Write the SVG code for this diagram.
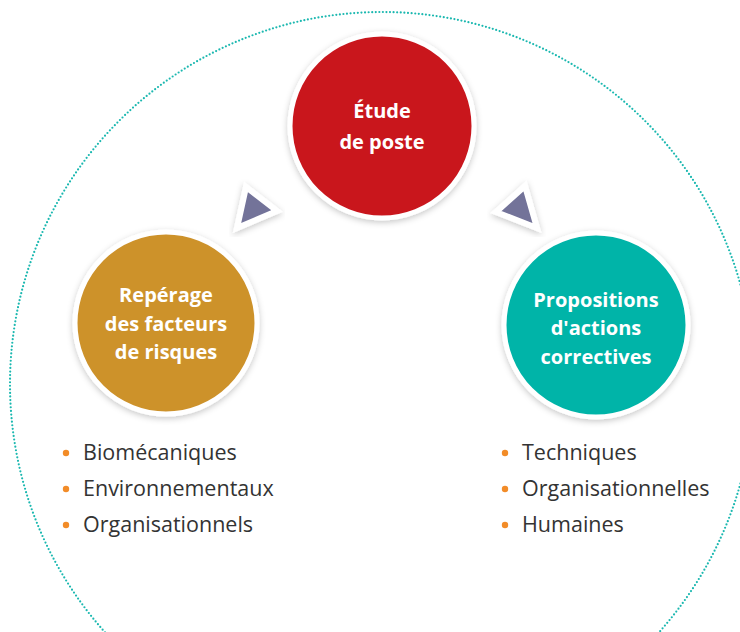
<svg xmlns="http://www.w3.org/2000/svg" width="740" height="632" viewBox="0 0 740 632">
<defs>
<filter id="sh" x="-20%" y="-20%" width="140%" height="140%">
<feDropShadow dx="0" dy="2" stdDeviation="3" flood-color="#000" flood-opacity="0.22"/>
</filter>
</defs>
<style>
.ring{fill:none;stroke:#1bb8b0;stroke-width:2.2;stroke-dasharray:0 3.6;stroke-linecap:round}
.disc{stroke:#fff;stroke-width:5;filter:url(#sh)}
.tri{fill:#737399;stroke:#fff;stroke-width:6;stroke-linejoin:miter;filter:url(#sh)}
.lbl{font-family:"Open Sans","Noto Sans",sans-serif;font-weight:bold;font-size:20px;fill:#fff;text-anchor:middle}
.item{font-family:"Open Sans","Noto Sans",sans-serif;font-size:21.5px;fill:#333}
.dot{fill:#f28c28}
</style>
<circle class="ring" cx="382" cy="384" r="372"/>
<g id="connectors">
<polygon class="tri" points="246,187 237,228 277,211"/>
<polygon class="tri" points="525,186 496,212 537,228"/>
</g>
<g id="node-etude">
<circle class="disc" cx="382" cy="126" r="92" fill="#c9161f"/>
<text class="lbl" x="382" y="118">Étude</text>
<text class="lbl" x="382" y="149">de poste</text>
</g>
<g id="node-reperage">
<circle class="disc" cx="166" cy="323" r="91" fill="#cd922c"/>
<text class="lbl" x="166" y="302">Repérage</text>
<text class="lbl" x="166" y="331">des facteurs</text>
<text class="lbl" x="166" y="359">de risques</text>
</g>
<g id="node-propositions">
<circle class="disc" cx="596" cy="325" r="92" fill="#00b4a8"/>
<text class="lbl" x="596" y="307">Propositions</text>
<text class="lbl" x="596" y="335">d'actions</text>
<text class="lbl" x="596" y="364">correctives</text>
</g>
<g id="list-left">
<circle class="dot" cx="66" cy="453" r="3.2"/>
<text class="item" x="83" y="460">Biomécaniques</text>
<circle class="dot" cx="66" cy="489" r="3.2"/>
<text class="item" x="83" y="496">Environnementaux</text>
<circle class="dot" cx="66" cy="525" r="3.2"/>
<text class="item" x="83" y="532">Organisationnels</text>
</g>
<g id="list-right">
<circle class="dot" cx="505" cy="453" r="3.2"/>
<text class="item" x="522" y="460">Techniques</text>
<circle class="dot" cx="505" cy="489" r="3.2"/>
<text class="item" x="522" y="496">Organisationnelles</text>
<circle class="dot" cx="505" cy="525" r="3.2"/>
<text class="item" x="522" y="532">Humaines</text>
</g>
</svg>
